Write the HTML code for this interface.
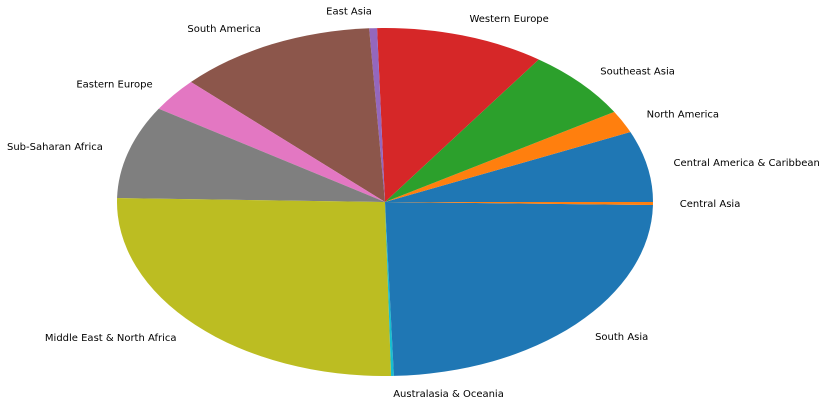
<!DOCTYPE html>
<html><head><meta charset="utf-8"><style>
html,body{margin:0;padding:0;background:#fff;}
svg text{font-family:"DejaVu Sans","Liberation Sans",sans-serif;font-size:10px;fill:#000;}
</style></head><body>
<svg id="chart" width="826" height="406" viewBox="0 0 826 406" xmlns="http://www.w3.org/2000/svg"></svg>
<script>
const categories = ["Central America & Caribbean","North America","Southeast Asia","Western Europe","East Asia","South America","Eastern Europe","Sub-Saharan Africa","Middle East & North Africa","Australasia & Oceania","South Asia","Central Asia"];
const values = [23.7,7.5,23.8,36.7,1.7,43,11.2,31.1,92.6,0.6,87.1,1.0];
const colors = ["#1f77b4","#ff7f0e","#2ca02c","#d62728","#9467bd","#8c564b","#e377c2","#7f7f7f","#bcbd22","#17becf","#1f77b4","#ff7f0e"];
const cx=385, cy=202, rx=268, ry=174;
const svg=document.getElementById('chart');
const NS="http://www.w3.org/2000/svg";
const total=values.reduce((a,b)=>a+b,0);
let a0=0;
function pt(a,k){return [cx+k*rx*Math.cos(a), cy-k*ry*Math.sin(a)];}
values.forEach((v,i)=>{
  const a1=a0+v/total*2*Math.PI;
  const p0=pt(a0,1), p1=pt(a1,1);
  const large=(a1-a0)>Math.PI?1:0;
  const path=document.createElementNS(NS,'path');
  path.setAttribute('d',`M${cx},${cy} L${p0[0]},${p0[1]} A${rx},${ry} 0 ${large} 0 ${p1[0]},${p1[1]} Z`);
  path.setAttribute('fill',colors[i]);
  
  
  svg.appendChild(path);
  const am=(a0+a1)/2;
  const lp=pt(am,1.1);
  const t=document.createElementNS(NS,'text');
  t.setAttribute('x',lp[0]);
  t.setAttribute('y',lp[1]);
  t.setAttribute('dy','0.35em');
  t.setAttribute('text-anchor',Math.cos(am)>=0?'start':'end');
  t.textContent=categories[i];
  
  
  svg.appendChild(t);
  a0=a1;
});
</script>
</body></html>
